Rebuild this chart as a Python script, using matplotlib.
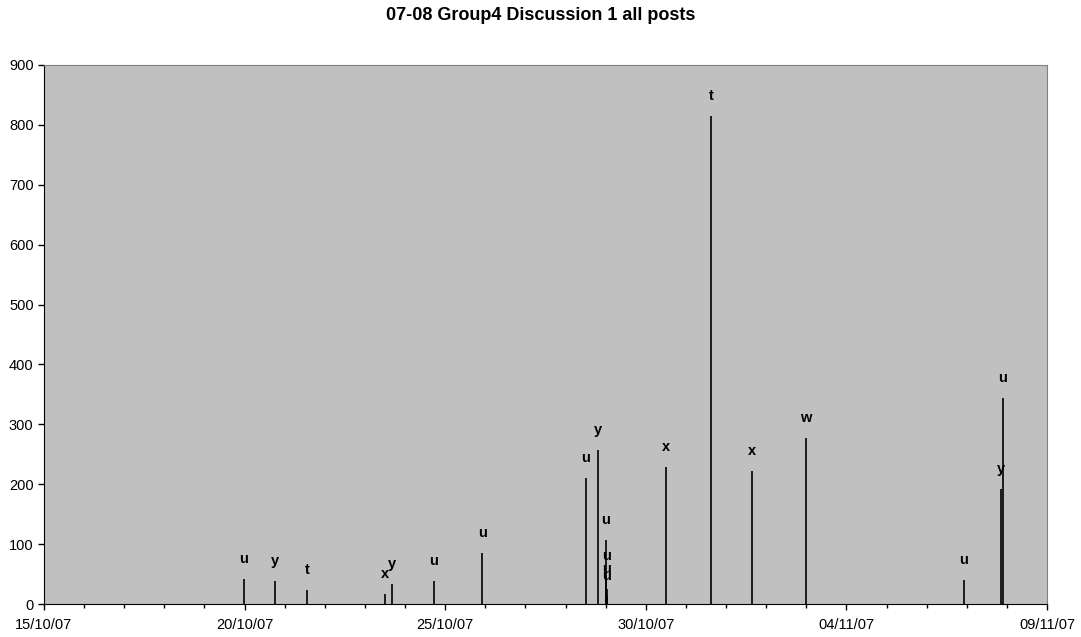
import numpy as np
import pandas as pd
import matplotlib
matplotlib.use("Agg")
import matplotlib.pyplot as plt
import matplotlib.dates as mdates

plt.rcParams['font.family'] = ['Liberation Sans', 'DejaVu Sans']

# posts: timestamp, size, author letter
times = ["2007-10-19 23:40", "2007-10-20 18:15", "2007-10-21 13:26", "2007-10-23 12:00",
         "2007-10-23 16:05", "2007-10-24 17:15", "2007-10-25 22:05", "2007-10-28 12:15",
         "2007-10-28 19:26", "2007-10-29 00:10", "2007-10-29 00:20", "2007-10-29 00:30",
         "2007-10-29 00:40", "2007-10-30 12:00", "2007-10-31 14:53", "2007-11-01 15:36",
         "2007-11-02 23:45", "2007-11-06 22:19", "2007-11-07 20:24", "2007-11-07 21:36"]
values = [41, 38, 24, 17, 33, 38, 85, 210, 257, 107, 47, 25, 13, 229, 815, 222, 277, 40, 192, 344]
authors = ["u", "y", "t", "x", "y", "u", "u", "u", "y", "u", "u", "u", "u", "x", "t", "x", "w", "u", "y", "u"]

t = pd.to_datetime(times)

fig = plt.figure(figsize=(10.81, 6.37), dpi=100)
ax = fig.add_axes([44/1081, 1 - 604/637, (1047-44)/1081, (604-65)/637])
ax.set_facecolor('#c0c0c0')

ax.vlines(t, 0, values, color='black', linewidth=1.2)
for ti, v, a in zip(t, values, authors):
    ax.annotate(a, (ti, v), xytext=(0, 11.5), textcoords='offset points',
                ha='center', va='baseline', fontsize=10.5, fontweight='bold')

ax.set_xlim(pd.Timestamp("2007-10-15"), pd.Timestamp("2007-11-09"))
ax.set_ylim(0, 900)
ax.set_yticks(np.arange(0, 901, 100))
ax.xaxis.set_major_locator(mdates.DayLocator(bymonthday=[15, 20, 25, 30, 4, 9]))
ax.xaxis.set_minor_locator(mdates.DayLocator())
ax.xaxis.set_major_formatter(mdates.DateFormatter('%d/%m/%y'))
ax.tick_params(axis='both', labelsize=10.5, direction='out', length=4, width=1)
ax.tick_params(axis='x', which='minor', length=3, width=1)
ax.tick_params(axis='x', pad=6)

for s in ['top', 'right']:
    ax.spines[s].set_color('#808080')
for s in ['left', 'bottom']:
    ax.spines[s].set_color('black')

fig.text(0.5, 1 - 15/637, "07-08 Group4 Discussion 1 all posts", ha='center', va='center',
         fontsize=13, fontweight='bold')

fig.savefig("out.png", dpi=100)
